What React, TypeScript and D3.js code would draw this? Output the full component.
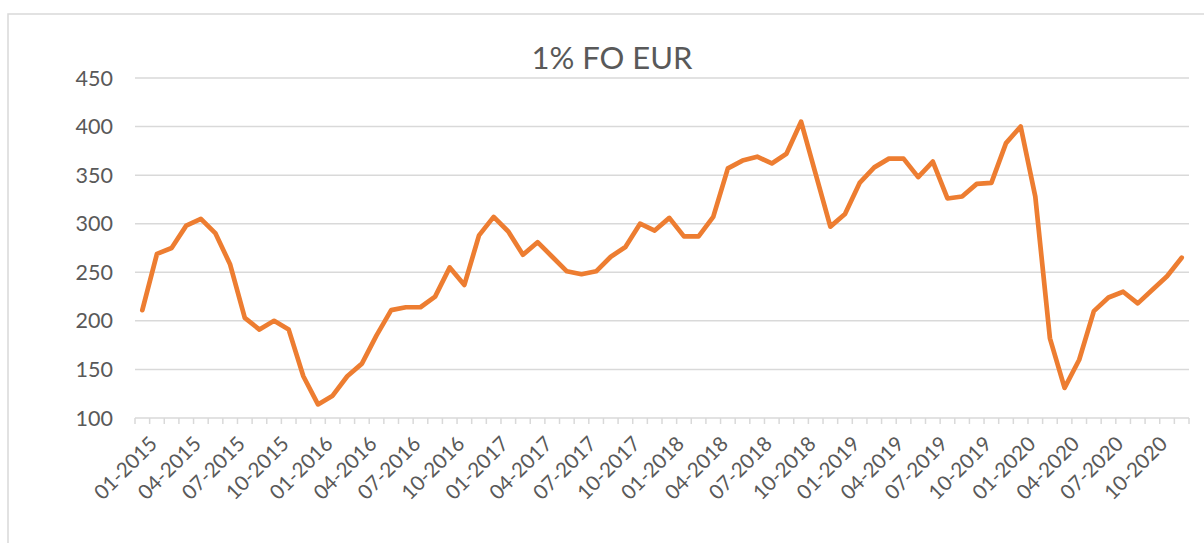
import React from "react";
import * as d3 from "d3";

const title = "1% FO EUR";
const years = [2015, 2016, 2017, 2018, 2019, 2020];
const monthCodes = ["01", "02", "03", "04", "05", "06", "07", "08", "09", "10", "11", "12"];
const categories: string[] = years.flatMap((y) => monthCodes.map((m) => `${m}-${y}`));
const values = [
  211, 269, 275, 298, 305, 290, 258, 203, 191, 200,
  191, 143, 114, 123, 143, 156, 185, 211, 214, 214,
  225, 255, 237, 288, 307, 292, 268, 281, 266, 251,
  248, 251, 266, 276, 300, 293, 306, 287, 287, 307,
  357, 365, 369, 362, 372, 405, 351, 297, 310, 342,
  358, 367, 367, 348, 364, 326, 328, 341, 342, 383,
  400, 328, 182, 131, 160, 210, 224, 230, 218, 232,
  246, 265,
];
const yTicks = [100, 150, 200, 250, 300, 350, 400, 450];

const W = 1204;
const H = 543;
const left = 135;
const right = 1189;
const top = 78;
const bottom = 418;
const grid = "#d9d9d9";
const textColor = "#595959";
const font = "Lato, 'Open Sans', sans-serif";

export default function App() {
  const x = d3.scaleBand<number>().domain(d3.range(categories.length)).range([left, right]).padding(0);
  const y = d3.scaleLinear().domain([100, 450]).range([bottom, top]);
  const line = d3
    .line<number>()
    .x((_, i) => (x(i) as number) + x.bandwidth() / 2)
    .y((d) => y(d));
  const tickPositions = d3.range(categories.length + 1).map((i) => left + i * x.bandwidth());

  return (
    <svg width={W} height={H} style={{ position: "absolute", left: 0, top: 0, background: "#fff" }}>
      <rect x={8} y={14} width={1400} height={800} fill="#fff" stroke={grid} strokeWidth={1.5} />
      <text x={612} y={69} textAnchor="middle" fontFamily={font} fontSize={31} fill={textColor}>
        {title}
      </text>
      {yTicks.map((t) => (
        <g key={t}>
          {t !== 100 && (
            <line x1={left} x2={right} y1={y(t)} y2={y(t)} stroke={grid} strokeWidth={1.5} />
          )}
          <text x={113} y={y(t)} dy="0.35em" textAnchor="end" fontFamily={font} fontSize={21.5} fill={textColor}>
            {t}
          </text>
        </g>
      ))}
      <line x1={left} x2={right} y1={bottom} y2={bottom} stroke={grid} strokeWidth={1.5} />
      {tickPositions.map((p, i) => (
        <line key={i} x1={p} x2={p} y1={bottom} y2={bottom + 6} stroke={grid} strokeWidth={1.5} />
      ))}
      {categories.map((c, i) =>
        i % 3 === 0 ? (
          <text
            key={c}
            transform={`translate(${(x(i) as number) + x.bandwidth() / 2 + 6},${bottom + 17}) rotate(-45)`}
            textAnchor="end"
            dy="0.7em"
            fontFamily={font}
            fontSize={20.5}
            fill={textColor}
          >
            {c}
          </text>
        ) : null
      )}
      <path
        d={line(values) as string}
        fill="none"
        stroke="#ED7D31"
        strokeWidth={4.7}
        strokeLinejoin="round"
        strokeLinecap="round"
      />
    </svg>
  );
}
